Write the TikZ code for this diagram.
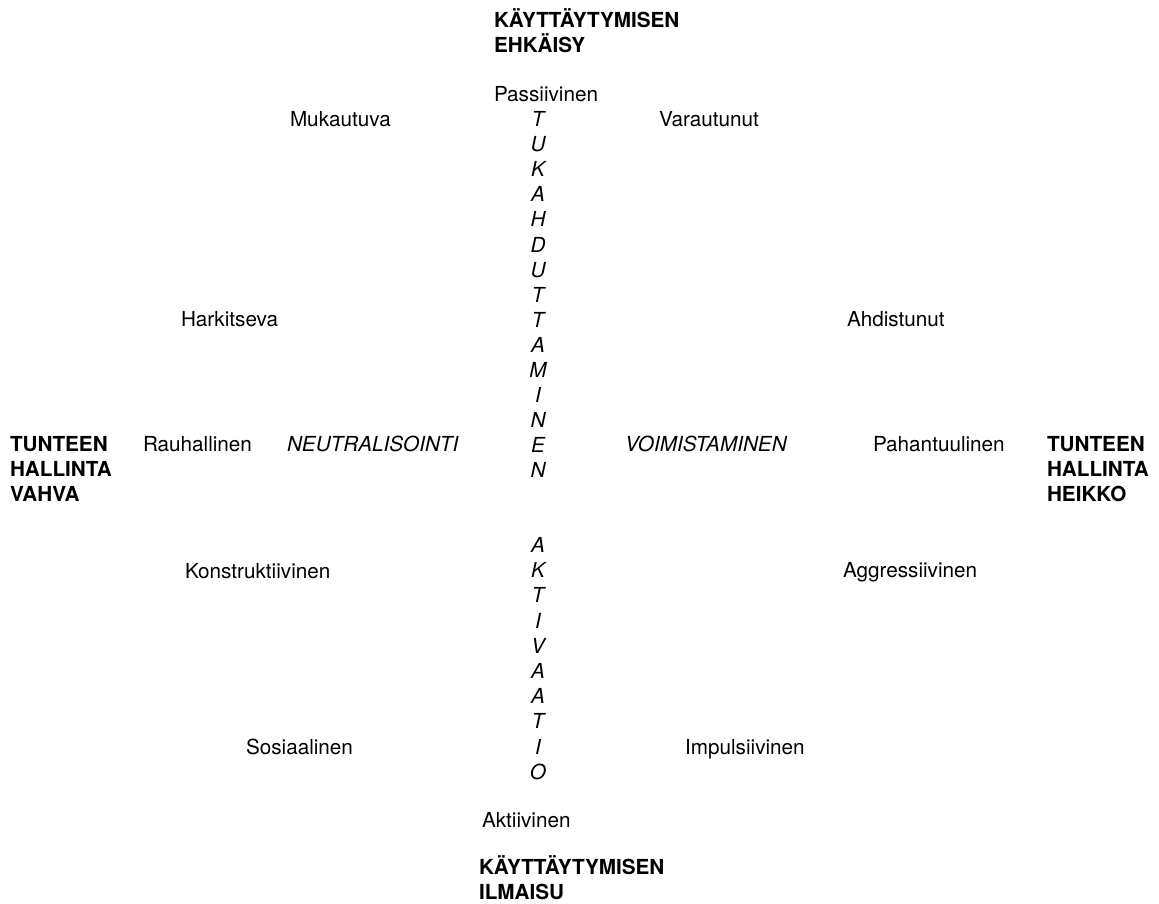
\documentclass[tikz,border=0pt]{standalone}
\usepackage{fontspec}
\setmainfont{TeX Gyre Heros}
\begin{document}
\begin{tikzpicture}[x=1pt,y=-1pt,
  base/.style={inner sep=0pt,outer sep=0pt,font=\fontsize{20.7}{25.1}\selectfont},
  lbl/.style={base,anchor=base west},
  hd/.style={base,anchor=base west,font=\fontsize{20.7}{25.1}\selectfont\bfseries},
  proc/.style={base,anchor=base west,font=\fontsize{20.7}{25.1}\selectfont\itshape},
  colletter/.style={base,anchor=base,font=\fontsize{20.7}{25.1}\selectfont\itshape}]
\useasboundingbox[fill=white] (0,0) rectangle (1159,904);

% top heading
\node[hd] (top1) at (494,27.4) {KÄYTTÄYTYMISEN};
\node[hd] (top2) at (494,52.5) {EHKÄISY};
\node[lbl] (passiivinen) at (494,101.5) {Passiivinen};

% vertical word 1
\foreach \L [count=\i from 0] in {T,U,K,A,H,D,U,T,T,A,M,I,N,E,N}
  \node[colletter] (tuk\i) at (538,126.5+25.1*\i) {\L};

% vertical word 2
\foreach \L [count=\i from 0] in {A,K,T,I,V,A,A,T,I,O}
  \node[colletter] (akt\i) at (538,552.5+25.2*\i) {\L};

% diagonal labels
\node[lbl] (mukautuva) at (290,126.5) {Mukautuva};
\node[lbl] (varautunut) at (659,126.5) {Varautunut};
\node[lbl] (harkitseva) at (181,326.5) {Harkitseva};
\node[lbl] (ahdistunut) at (847,326) {Ahdistunut};
\node[lbl] (konstr) at (185,578.5) {Konstruktiivinen};
\node[lbl] (aggr) at (843,577) {Aggressiivinen};
\node[lbl] (sosiaalinen) at (246,754.5) {Sosiaalinen};
\node[lbl] (impulsiivinen) at (685,754.5) {Impulsiivinen};

% middle row
\node[hd] (left1) at (10,451.5) {TUNTEEN};
\node[hd] (left2) at (10,476.6) {HALLINTA};
\node[hd] (left3) at (10,501.7) {VAHVA};
\node[lbl] (rauhallinen) at (143,451.5) {Rauhallinen};
\node[proc] (neutral) at (287,451.5) {NEUTRALISOINTI};
\node[proc] (voim) at (625,451.5) {VOIMISTAMINEN};
\node[lbl] (pahantuulinen) at (873,451.5) {Pahantuulinen};
\node[hd] (right1) at (1047,451.5) {TUNTEEN};
\node[hd] (right2) at (1047,476.6) {HALLINTA};
\node[hd] (right3) at (1047,501.7) {HEIKKO};

% bottom
\node[lbl] (aktiivinen) at (482,827.5) {Aktiivinen};
\node[hd] (bot1) at (479,874.5) {KÄYTTÄYTYMISEN};
\node[hd] (bot2) at (479,899.5) {ILMAISU};
\end{tikzpicture}
\end{document}
